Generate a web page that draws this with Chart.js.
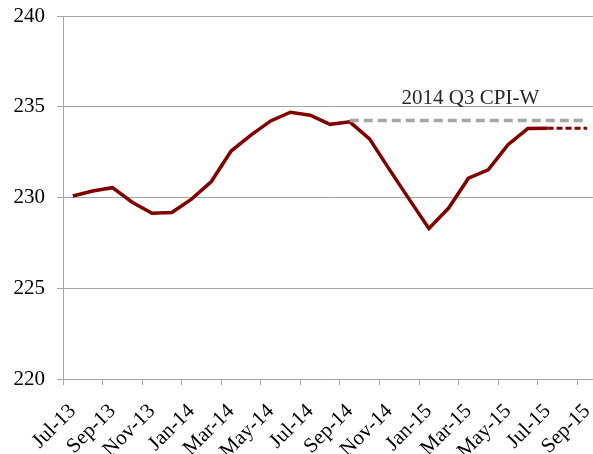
<!DOCTYPE html>
<html lang="en">
<head>
    <meta charset="UTF-8">
    <title>CPI-W</title>
    <script src="https://cdn.jsdelivr.net/npm/chart.js"></script>
    <style>
        html, body { margin: 0; padding: 0; overflow: hidden; background: #fff; }
    </style>
</head>
<body>
    <canvas id="cpiChart" width="604" height="454"></canvas>

    <script>
        // Months on the x axis (Jul-13 .. Sep-15)
        const months = ['Jul-13','Aug-13','Sep-13','Oct-13','Nov-13','Dec-13',
            'Jan-14','Feb-14','Mar-14','Apr-14','May-14','Jun-14',
            'Jul-14','Aug-14','Sep-14','Oct-14','Nov-14','Dec-14',
            'Jan-15','Feb-15','Mar-15','Apr-15','May-15','Jun-15',
            'Jul-15','Aug-15','Sep-15'];

        // Monthly CPI-W
        const cpiW = [230.08, 230.36, 230.54, 229.74, 229.13, 229.17,
            229.91, 230.88, 232.56, 233.44, 234.22, 234.70,
            234.53, 234.03, 234.17, 233.23, 231.55, 229.91,
            228.29, 229.42, 231.06, 231.52, 232.91, 233.80,
            233.81, null, null];

        // Dashed projection after Jul-15
        const projected = [null, null, null, null, null, null, null, null, null,
            null, null, null, null, null, null, null, null, null, null, null,
            null, null, null, null, 233.81, 233.81, 233.81];

        // 2014 Q3 average, Sep-14 onward
        const q3Avg = [null, null, null, null, null, null, null, null, null,
            null, null, null, null, null, 234.24, 234.24, 234.24, 234.24,
            234.24, 234.24, 234.24, 234.24, 234.24, 234.24, 234.24, 234.24, 234.24];

        const yTicks = [220, 225, 230, 235, 240];

        const serif = '"Liberation Serif", "DejaVu Serif", serif';
        const gridGray = '#a6a6a6';

        // label drawn above the gray line
        const noteLabel = {
            id: 'noteLabel',
            afterDatasetsDraw(chart) {
                const { ctx, scales } = chart;
                const x = scales.x.getPixelForValue(20) + 2;
                const y = scales.y.getPixelForValue(235.17);
                ctx.save();
                ctx.font = '21px ' + serif;
                ctx.fillStyle = '#262626';
                ctx.textAlign = 'center';
                ctx.textBaseline = 'alphabetic';
                ctx.fillText('2014 Q3 CPI-W', x, y);
                ctx.restore();
            }
        };

        new Chart(document.getElementById('cpiChart'), {
            type: 'line',
            data: {
                labels: months,
                datasets: [
                    {
                        label: '2014 Q3 CPI-W',
                        data: q3Avg,
                        borderColor: '#a6a6a6',
                        borderWidth: 3.5,
                        borderDash: [9, 5],
                        pointRadius: 0,
                        fill: false
                    },
                    {
                        label: 'Projected',
                        data: projected,
                        borderColor: '#800000',
                        borderWidth: 3,
                        borderDash: [6, 3],
                        pointRadius: 0,
                        fill: false
                    },
                    {
                        label: 'CPI-W',
                        data: cpiW,
                        borderColor: '#800000',
                        borderWidth: 3.5,
                        pointRadius: 0,
                        fill: false,
                        tension: 0
                    }
                ]
            },
            options: {
                responsive: false,
                animation: false,
                layout: { padding: { top: 16, right: 7, left: 0, bottom: 0 } },
                plugins: {
                    legend: { display: false },
                    tooltip: { enabled: false }
                },
                scales: {
                    x: {
                        offset: true,
                        afterFit: (s) => { s.height = 75; s.paddingRight = 0; s.paddingLeft = 0; },
                        grid: {
                            offset: true,
                            drawOnChartArea: false,
                            tickLength: 6,
                            color: (c) => (c.index % 2 === 0 ? gridGray : 'rgba(0,0,0,0)')
                        },
                        border: { color: gridGray },
                        ticks: {
                            autoSkip: false,
                            maxRotation: 45,
                            minRotation: 45,
                            padding: 14,
                            color: '#000',
                            font: { family: serif, size: 21 },
                            callback: (v, i) => (i % 2 === 0 ? months[i] : '')
                        }
                    },
                    y: {
                        min: 220,
                        max: 240,
                        afterBuildTicks: (s) => { s.ticks = yTicks.map(v => ({ value: v })); },
                        afterFit: (s) => { s.width = 63; s.paddingTop = 0; s.paddingBottom = 0; },
                        grid: { color: gridGray, tickLength: 6 },
                        border: { color: gridGray },
                        ticks: {
                            color: '#000',
                            padding: 12,
                            font: { family: serif, size: 21 }
                        }
                    }
                }
            },
            plugins: [noteLabel]
        });
    </script>
</body>
</html>
